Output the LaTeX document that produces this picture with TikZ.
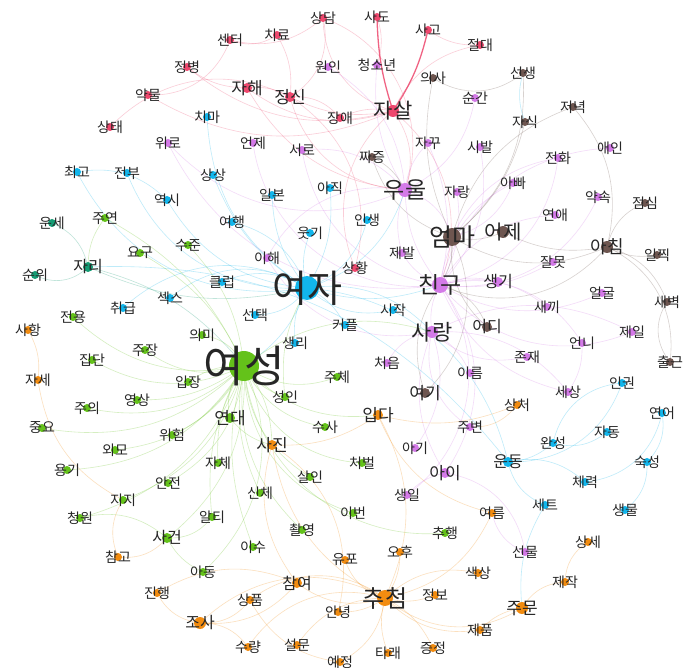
\documentclass[tikz,border=0pt]{standalone}
\usepackage{fontspec}
\newfontfamily\kr{Noto Sans CJK KR}
\pgfdeclarelayer{edges}
\pgfdeclarelayer{dots}
\pgfsetlayers{edges,dots,main}
\definecolor{cR}{RGB}{238,72,110}
\definecolor{cP}{RGB}{212,122,232}
\definecolor{cB}{RGB}{110,86,80}
\definecolor{cC}{RGB}{18,182,236}
\definecolor{cG}{RGB}{100,194,26}
\definecolor{cO}{RGB}{242,140,16}
\definecolor{cT}{RGB}{20,156,116}
\tikzset{
  lbl/.style={inner sep=0pt, text=black!85},
  edge/.style={line width=0.6pt, opacity=0.27},
  strongedge/.style={line width=1.3pt, opacity=0.85}
}
\begin{document}
\begin{tikzpicture}[x=1pt,y=-1pt]
\useasboundingbox (0,0) rectangle (686,668);
\begin{pgfonlayer}{edges}
\fill[white] (0,0) rectangle (686,668);
\end{pgfonlayer}
% nodes: name / x / y / colour / font size / dot radius
\foreach \n/\x/\y/\c/\f/\r in {
상담/323/18/cR/14/4, 사도/377/17/cR/14/4, 사고/428/30/cR/14/4, 센터/230/40/cR/14/4,
치료/277/35/cR/14/4, 절대/480/45/cR/14/4, 정병/187/67/cR/14/4, 약물/148/95/cR/14/4,
자해/247/88/cR/17/5, 정신/290/97/cR/17/5, 자살/393/111/cR/21/6, 장애/340/118/cR/14/4,
상태/110/127/cR/14/4, 상황/355/268/cR/14/4,
원인/328/67/cP/14/4, 청소년/377/65/cP/14/4, 순간/475/98/cP/14/4, 위로/168/143/cP/14/4,
언제/253/143/cP/14/4, 서로/302/150/cP/14/4, 자꾸/428/143/cP/14/4, 시발/480/147/cP/14/4,
애인/610/148/cP/14/4, 전화/558/158/cP/14/4, 우울/405/190/cP/23/7, 자랑/457/192/cP/14/4,
아빠/513/183/cP/14/4, 약속/598/197/cP/14/4, 연애/555/215/cP/14/4, 이해/267/258/cP/14/4,
제발/402/253/cP/14/4, 친구/440/285/cP/23/8, 생기/498/282/cP/16/5, 잘못/553/262/cP/14/4,
얼굴/602/293/cP/14/4, 새끼/547/307/cP/14/4, 사랑/432/332/cP/22/6, 제일/632/332/cP/14/4,
언니/582/343/cP/14/4, 존재/527/357/cP/14/4, 처음/387/363/cP/14/4, 이름/470/373/cP/14/4,
세상/568/392/cP/14/4, 주변/470/427/cP/14/4, 아기/415/448/cP/14/4, 아이/445/473/cP/17/5,
생일/407/495/cP/14/4, 선물/525/552/cP/14/4,
선생/523/73/cB/14/4, 의사/433/78/cB/14/4, 저녁/573/107/cB/14/4, 자식/525/122/cB/14/4,
짜증/372/157/cB/14/4, 점심/645/203/cB/14/4, 엄마/452/237/cB/25/9, 어제/503/232/cB/20/6,
아침/607/247/cB/18/6, 일찍/657/255/cB/14/4, 새벽/667/302/cB/14/4, 어디/487/327/cB/16/5,
출근/670/362/cB/14/4, 여기/425/393/cB/17/5,
치마/207/117/cC/14/4, 최고/77/172/cC/14/4, 전부/127/173/cC/14/4, 상상/213/175/cC/14/4,
역시/167/200/cC/14/4, 일본/272/195/cC/14/4, 아직/330/188/cC/14/4, 여행/232/222/cC/14/4,
인생/367/220/cC/14/4, 웃기/310/233/cC/14/4, 클럽/222/282/cC/14/4, 여자/307/288/cC/38/12,
섹스/170/298/cC/14/4, 취급/123/308/cC/14/4, 선택/255/315/cC/14/4, 시작/393/310/cC/14/4,
커플/345/325/cC/14/4, 생리/295/343/cC/14/4, 인권/622/383/cC/14/4, 연어/662/413/cC/14/4,
자동/607/432/cC/14/4, 완성/553/443/cC/14/4, 운동/508/462/cC/16/5, 숙성/647/462/cC/14/4,
체력/585/482/cC/14/4, 세트/545/505/cC/14/4, 생물/625/510/cC/14/4,
운세/52/223/cT/14/4, 자리/88/267/cT/16/5, 순위/35/275/cT/14/4,
주연/105/218/cG/14/4, 요구/140/253/cG/14/4, 수준/188/245/cG/14/4, 전용/73/317/cG/14/4,
의미/202/335/cG/14/4, 주장/145/350/cG/14/4, 집단/92/360/cG/14/4, 여성/244/366/cG/44/15,
주체/337/377/cG/14/4, 입장/188/382/cG/14/4, 성인/285/397/cG/14/4, 영상/137/400/cG/14/4,
주의/87/408/cG/14/4, 연대/230/418/cG/17/5, 수사/325/427/cG/14/4, 중요/42/428/cG/14/4,
위험/172/435/cG/14/4, 외모/115/450/cG/14/4, 자체/218/463/cG/14/4, 처벌/362/463/cG/14/4,
용기/67/470/cG/14/4, 살인/310/477/cG/14/4, 안전/168/483/cG/14/4, 신체/260/493/cG/14/4,
지지/123/500/cG/14/4, 이번/353/513/cG/14/4, 청원/80/518/cG/14/4, 알티/212/517/cG/14/4,
촬영/302/530/cG/14/4, 추행/445/533/cG/14/4, 사건/167/538/cG/16/5, 이수/253/547/cG/14/4,
아동/203/572/cG/14/4,
사항/28/330/cO/14/4, 자세/38/380/cO/14/4, 입다/378/415/cO/17/5, 상처/517/405/cO/14/4,
사진/272/445/cO/17/5, 여름/492/513/cO/14/4, 상세/588/542/cO/14/4, 참고/118/557/cO/14/4,
유포/345/560/cO/14/4, 오후/400/552/cO/14/4, 색상/478/573/cO/14/4, 제작/565/582/cO/14/4,
참여/297/583/cO/16/5, 진행/157/593/cO/14/4, 상품/250/600/cO/14/4, 추첨/385/598/cO/24/8,
정보/435/595/cO/14/4, 주문/522/608/cO/17/6, 안녕/338/612/cO/14/4, 조사/200/623/cO/16/6,
제품/480/630/cO/14/4, 수량/248/647/cO/14/4, 설문/297/645/cO/14/4, 증정/433/648/cO/14/4,
타래/388/653/cO/14/4, 예정/340/662/cO/14/4}{
  \begin{pgfonlayer}{dots}\fill[\c] (\x,\y) circle[radius=\r];\end{pgfonlayer}
  \node[lbl, font=\kr\fontsize{\f}{\f}\selectfont] (\n) at (\x,\y) {\n};
}
\begin{pgfonlayer}{edges}
\draw[cR, strongedge] (사도.center) to[bend left=-8] (자살.center);
\draw[cR, strongedge] (사고.center) to[bend left=10] (자살.center);
\foreach \a/\b/\c/\s [evaluate=\s as \ss using 1.8*\s] in {
상담/정신/cR/20, 상담/자살/cR/-20, 치료/센터/cR/15, 센터/상담/cR/-15, 치료/정신/cR/10,
센터/약물/cR/20, 정병/자해/cR/-10, 정병/자살/cR/-15, 약물/자살/cR/-15, 자해/정신/cR/10,
자해/자살/cR/-15, 정신/자살/cR/-10, 장애/자살/cR/10, 상태/정신/cR/20, 절대/자살/cR/-15,
절대/사고/cR/10, 상황/자살/cR/20, 상황/정신/cR/-20, 장애/정신/cR/-15, 자살/우울/cR/15,
정신/우울/cR/-20, 자해/우울/cR/-15, 사도/청소년/cR/10, 상담/우울/cR/25, 자살/친구/cR/20,
원인/우울/cP/15, 청소년/우울/cP/-10, 순간/우울/cP/15, 위로/우울/cP/-20, 위로/친구/cP/-20,
언제/친구/cP/-25, 서로/친구/cP/-20, 서로/우울/cP/15, 자꾸/친구/cP/10, 자꾸/우울/cP/-10,
시발/친구/cP/15, 애인/친구/cP/-20, 전화/친구/cP/20, 전화/엄마/cP/-15, 아빠/엄마/cP/15,
아빠/친구/cP/-15, 자랑/친구/cP/10, 약속/친구/cP/20, 연애/친구/cP/-15, 잘못/친구/cP/10,
생기/친구/cP/-10, 얼굴/친구/cP/15, 새끼/친구/cP/-15, 제일/친구/cP/20, 제일/사랑/cP/-15,
이해/사랑/cP/-20, 이해/우울/cP/20, 제발/우울/cP/10, 제발/친구/cP/-10, 처음/사랑/cP/15,
아기/사랑/cP/-15, 아이/사랑/cP/15, 아이/친구/cP/-20, 생일/아이/cP/10, 생일/친구/cP/-25,
이름/사랑/cP/-10, 존재/사랑/cP/15, 언니/친구/cP/-20, 세상/사랑/cP/-15, 주변/사랑/cP/20,
선물/여름/cP/15, 선물/아이/cP/-20, 사랑/친구/cP/10, 우울/친구/cP/-10, 우울/엄마/cP/15,
세상/친구/cP/15, 언니/세상/cP/10,
선생/의사/cB/20, 선생/엄마/cB/15, 의사/엄마/cB/-10, 저녁/아침/cB/15, 저녁/엄마/cB/-15,
자식/엄마/cB/10, 자식/선생/cC/10, 짜증/엄마/cB/-15, 점심/아침/cB/-15, 일찍/아침/cB/10,
새벽/아침/cB/-15, 출근/새벽/cB/20, 어제/엄마/cB/10, 어제/아침/cB/-10, 어디/엄마/cB/15,
어디/친구/cB/-15, 여기/엄마/cB/-20, 여기/친구/cB/15, 엄마/친구/cB/10, 아침/엄마/cB/15,
아침/친구/cB/20, 출근/아침/cB/-20, 짜증/우울/cB/10,
치마/여자/cC/-15, 최고/여자/cC/-20, 전부/여자/cC/-20, 상상/여자/cC/-10, 역시/여자/cC/-15,
일본/여자/cC/-10, 아직/여자/cC/10, 여행/여자/cC/15, 인생/여자/cC/15, 웃기/여자/cC/-10,
클럽/여자/cC/15, 섹스/여자/cC/20, 취급/여자/cC/20, 선택/여자/cC/-15, 시작/여자/cC/15,
커플/여자/cC/-10, 생리/여자/cC/10, 운동/여자/cC/-20, 인권/완성/cC/-20, 연어/숙성/cC/15,
연어/체력/cC/20, 자동/완성/cC/15, 완성/운동/cC/10, 체력/운동/cC/-15, 세트/운동/cC/15,
세트/주문/cC/-10, 생물/숙성/cC/-15, 인권/운동/cC/20, 여자/여성/cC/10, 여자/친구/cC/-10,
여자/사랑/cC/15, 여자/우울/cC/-15, 최고/역시/cC/15, 자리/운동/cC/15,
운세/자리/cT/15, 순위/자리/cT/-20, 자리/여자/cT/-10, 자리/여성/cT/10,
주연/여성/cG/10, 요구/여성/cG/10, 수준/여성/cG/10, 전용/여성/cG/-15, 의미/여성/cG/15,
주장/여성/cG/-15, 집단/여성/cG/-15, 입장/여성/cG/10, 주의/여성/cG/-15, 영상/여성/cG/-10,
연대/여성/cG/15, 중요/여성/cG/-15, 위험/여성/cG/-10, 외모/여성/cG/-15, 자체/여성/cG/10,
용기/여성/cG/-15, 안전/여성/cG/-15, 지지/여성/cG/-15, 청원/사건/cG/15, 청원/여성/cG/-15,
알티/여성/cG/10, 사건/여성/cG/-15, 아동/사건/cG/10, 아동/여성/cG/-20, 주체/여성/cG/15,
성인/여성/cG/10, 수사/여성/cG/15, 처벌/여성/cG/20, 살인/여성/cG/15, 신체/여성/cG/10,
이번/여성/cG/20, 촬영/여성/cG/15, 이수/여성/cG/10, 추행/여성/cG/25, 알티/사건/cG/15,
사진/여성/cG/-10, 입다/여성/cG/15, 연대/사진/cG/-10, 성인/여자/cG/10, 여성/사랑/cG/15,
주연/자리/cG/-10,
사항/자세/cO/10, 자세/지지/cO/-15, 참고/사건/cO/-15, 참고/지지/cO/15, 진행/조사/cO/-15,
진행/참여/cO/15, 조사/추첨/cO/20, 조사/참여/cO/-15, 입다/추첨/cO/15, 입다/상처/cO/-10,
입다/사진/cO/10, 사진/추첨/cO/-15, 유포/추첨/cO/-15, 오후/추첨/cO/10, 참여/추첨/cO/-15,
상품/추첨/cO/20, 상품/조사/cO/15, 정보/추첨/cO/10, 안녕/추첨/cO/-10, 수량/추첨/cO/20,
설문/추첨/cO/15, 예정/추첨/cO/-15, 타래/추첨/cO/10, 증정/추첨/cO/-10, 여름/추첨/cO/15,
상세/제작/cO/-15, 색상/추첨/cO/-15, 제작/주문/cO/-15, 주문/추첨/cO/20, 제품/추첨/cO/15,
주문/제품/cO/-10, 상처/주변/cO/15, 사진/참여/cO/-15, 안녕/사진/cO/-20, 예정/상품/cO/15,
수량/조사/cO/-15, 여름/입다/cO/15}{
  \draw[\c, edge] (\a.center) to[bend left=\ss] (\b.center);
}
\end{pgfonlayer}
\end{tikzpicture}
\end{document}
